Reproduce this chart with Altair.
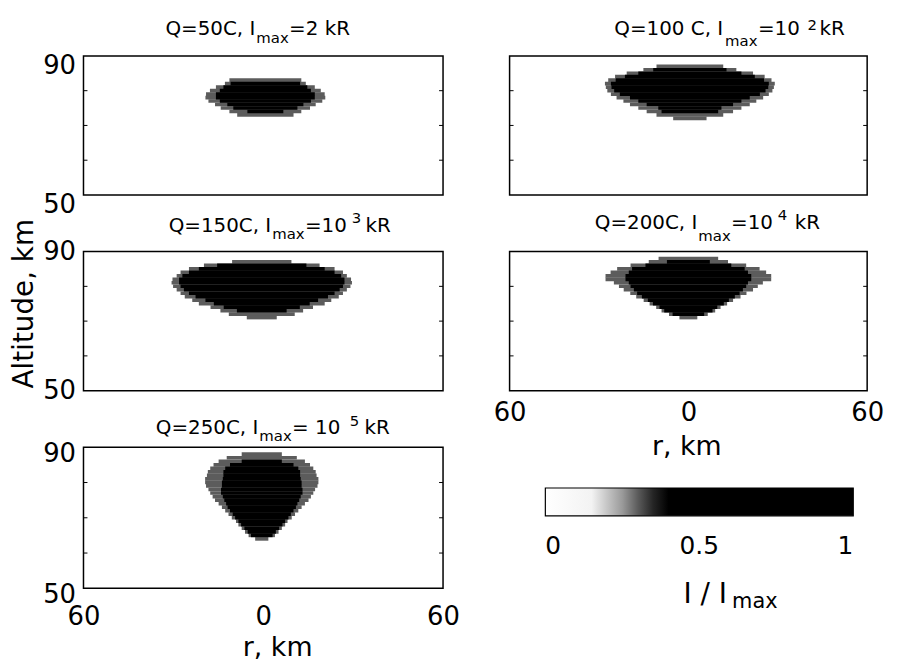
import altair as alt
import pandas as pd

FONT = "DejaVu Sans"

# ---------------- data ----------------
R_TICKS = [-60, 0, 60]
ALT_TICKS = [50, 90]
MINOR_ALT = [60, 70, 80]
CBAR_TICKS = [0, 0.5, 1]

FRINGE_LEVEL = 0.3   # I/Imax of the grey dithered edge
CORE_LEVEL = 1.0     # saturated core

# Panel 1 : Q=50C   (altitude km, core half-width km, edge half-width km)
P1_ALT = [83, 82, 81, 80, 79, 78, 77, 76, 75, 74, 73]
P1_CORE = [0, 11.6, 14.0, 15.2, 16.5, 16.5, 15.2, 12.7, 10.7, 6.0, 0]
P1_FRINGE = [12.0, 13.5, 16.5, 18.5, 19.8, 20.0, 19.0, 16.8, 14.9, 12.0, 9.4]
P1_CENTER = 0.7

# Panel 2 : Q=100 C
P2_ALT = [87, 86, 85, 84, 83, 82, 81, 80, 79, 78, 77, 76, 75, 74, 73, 72]
P2_CORE = [0, 12.3, 17.3, 21.8, 24.9, 26.5, 26.3, 25.4, 23.5, 20.1, 17.3, 14.5, 10.6, 9.5, 0, 0]
P2_FRINGE = [11.2, 15.6, 21.2, 25.1, 27.4, 28.5, 28.2, 27.7, 26.5, 24.6, 22.3, 20.1, 17.3, 14.5, 11.2, 5.6]
P2_CENTER = 0.5

# Panel 3 : Q=150C
P3_ALT = [87, 86, 85, 84, 83, 82, 81, 80, 79, 78, 77, 76, 75, 74, 73, 72, 71]
P3_CORE = [0, 14.9, 21.0, 24.3, 26.5, 27.6, 27.6, 27.1, 26.0, 24.3, 22.1, 18.8, 16.0, 12.7, 8.3, 0, 0]
P3_FRINGE = [9.9, 19.3, 24.3, 27.1, 28.4, 29.8, 30.1, 29.6, 28.4, 27.1, 25.7, 23.2, 21.0, 17.1, 13.8, 11.0, 5.0]
P3_CENTER = -0.5

# Panel 4 : Q=200C
P4_ALT = [88, 87, 86, 85, 84, 83, 82, 81, 80, 79, 78, 77, 76, 75, 74, 73, 72, 71]
P4_CORE = [0, 7.2, 14.4, 18.9, 20.0, 21.1, 21.1, 20.0, 19.4, 18.3, 17.2, 15.6, 13.6, 11.9, 9.7, 8.1, 5.3, 0]
P4_FRINGE = [10.0, 13.3, 19.4, 23.9, 26.1, 27.8, 27.8, 25.0, 23.3, 21.7, 19.5, 17.5, 15.0, 13.0, 10.8, 9.0, 6.5, 3.0]
P4_CENTER = 0.0

# Panel 5 : Q=250C
P5_ALT = [88, 87, 86, 85, 84, 83, 82, 81, 80, 79, 78, 77, 76, 75, 74, 73, 72, 71, 70, 69, 68, 67, 66, 65, 64]
P5_CORE = [0, 0, 6.7, 10.6, 12.2, 12.8, 12.8, 13.0, 13.3, 13.3, 13.6, 13.6, 13.0, 12.5, 11.9, 11.4,
           10.6, 9.7, 8.9, 7.8, 6.9, 5.8, 4.7, 3.6, 0]
P5_FRINGE = [6.7, 11.7, 14.4, 16.1, 17.2, 18.0, 18.3, 18.9, 18.9, 18.6, 17.8, 17.2, 16.4, 15.6, 14.4,
             13.3, 12.2, 11.1, 10.0, 8.6, 7.8, 6.7, 5.6, 4.4, 2.2]
P5_CENTER = -0.5

# title pieces: (before subscript, subscript, after, superscript, tail)
TITLES = [
    ("Q=50C,  I", "max", "=2 kR", "", ""),
    ("Q=100 C, I", "max", "=10", "2", "kR"),
    ("Q=150C, I", "max", "=10", "3", "kR"),
    ("Q=200C, I", "max", "=10", "4", "kR"),
    ("Q=250C, I", "max", "= 10", "5", "kR"),
]
CBAR_TITLE = ("I / I", "max")
Y_TITLE = "Altitude, km"
X_TITLE = "r, km"

# ---------------- layout / style ----------------
TFS, SFS = 20, 15          # title font size, sub/superscript font size
# (anchor x of "I" end, baseline, sub x, sub baseline, after x, sup x, sup baseline, tail x)
TITLE_POS = [
    (173, -21, 174, -13, 207, 0, 0, 0),
    (215, -21, 217, -10, 250, 300, -26, 312),
    (189, -20, 190, -13, 223, 270, -29, 284),
    (189, -23, 190, -11, 223, 270, -32, 287),
    (176, -13, 177, -6, 210, 268, -21, 283),
]
COLOR_SCALE = alt.Scale(domain=[0, 0.15, 0.25, 0.38, 1],
                        range=["#ffffff", "#f3f3f3", "#9a9a9a", "#000000", "#000000"])

LEGEND = alt.Legend(orient="none", direction="horizontal", legendX=465, legendY=435,
                    gradientLength=310, gradientThickness=28, values=CBAR_TICKS, format="~g",
                    title=None, labelFont=FONT, labelFontSize=25, labelColor="black",
                    labelAlign="center", labelOffset=18, gradientStrokeColor="black",
                    gradientStrokeWidth=1.2, padding=0)


def blob_df(alts, core, fringe, center):
    rows = []
    for a, f in zip(alts, fringe):
        rows.append(dict(x0=center - f, x1=center + f, y0=a - 0.5, y1=a + 0.55, v=FRINGE_LEVEL))
    for a, c in zip(alts, core):
        if c > 0:
            rows.append(dict(x0=center - c, x1=center + c, y0=a - 0.5, y1=a + 0.55, v=CORE_LEVEL))
    return pd.DataFrame(rows)


def txt(s, x, y, size, align="left"):
    return alt.Chart(alt.Data(values=[{}])).mark_text(
        text=s, align=align, baseline="alphabetic", font=FONT, fontSize=size, color="black"
    ).encode(x=alt.value(x), y=alt.value(y))


def title_layers(spec, pos):
    pre, sub, post, sup, tail = spec
    ax, base, subx, subb, postx, supx, supb, tailx = pos
    layers = [txt(pre, ax, base, TFS, "right"), txt(sub, subx, subb, SFS), txt(post, postx, base, TFS)]
    if sup:
        layers += [txt(sup, supx, supb, SFS), txt(tail, tailx, base, TFS)]
    return layers


def panel(df, idx, w, h, yaxis, xaxis, extra=()):
    x_enc = alt.X("x0:Q", scale=alt.Scale(domain=[-60, 60], nice=False, zero=False),
                  axis=xaxis if xaxis is not None else None)
    y_enc = alt.Y("y0:Q", scale=alt.Scale(domain=[50, 90], nice=False, zero=False),
                  axis=yaxis if yaxis is not None else None)
    rects = alt.Chart(df).mark_rect().encode(
        x=x_enc, x2="x1:Q", y=y_enc, y2="y1:Q",
        color=alt.Color("v:Q", scale=COLOR_SCALE, legend=LEGEND),
    )
    tick_df = pd.DataFrame({"a": MINOR_ALT})
    lt = alt.Chart(tick_df).mark_rule(color="black", strokeWidth=1).encode(
        y="a:Q", x=alt.value(0), x2=alt.value(4))
    rt = alt.Chart(tick_df).mark_rule(color="black", strokeWidth=1).encode(
        y="a:Q", x=alt.value(w - 4), x2=alt.value(w))
    layers = [rects, lt, rt] + title_layers(TITLES[idx], TITLE_POS[idx]) + list(extra)
    return alt.layer(*layers).properties(
        width=w, height=h, view=alt.ViewBackground(stroke="black", strokeWidth=1.5))


def y_axis(offset, title=None):
    kw = dict(values=ALT_TICKS, ticks=False, domain=False, grid=False, labelFont=FONT,
              labelFontSize=26, labelColor="black", labelPadding=8, labelOffset=offset)
    if title:
        kw.update(title=title, titleFont=FONT, titleFontSize=28, titleFontWeight="normal",
                  titleColor="black", titleAngle=270, titleX=-51, titleY=52,
                  titleAlign="center", titleBaseline="alphabetic")
    else:
        kw.update(title=None)
    return alt.Axis(**kw)


def x_axis(pad, tx, ty):
    return alt.Axis(values=R_TICKS, labelExpr="abs(datum.value)", ticks=False, domain=False,
                    grid=False, labelFlush=False, labelFont=FONT, labelFontSize=26,
                    labelColor="black", labelPadding=pad, title=X_TITLE, titleFont=FONT,
                    titleFontSize=27, titleFontWeight="normal", titleColor="black",
                    titleX=tx, titleY=ty, titleAlign="center", titleBaseline="alphabetic")


d1 = blob_df(P1_ALT, P1_CORE, P1_FRINGE, P1_CENTER)
d2 = blob_df(P2_ALT, P2_CORE, P2_FRINGE, P2_CENTER)
d3 = blob_df(P3_ALT, P3_CORE, P3_FRINGE, P3_CENTER)
d4 = blob_df(P4_ALT, P4_CORE, P4_FRINGE, P4_CENTER)
d5 = blob_df(P5_ALT, P5_CORE, P5_FRINGE, P5_CENTER)

cbar_text = [txt(CBAR_TITLE[0], 175, 354, 28), txt(CBAR_TITLE[1], 224, 359, 21)]

p1 = panel(d1, 0, 362, 140, y_axis(10), None)
p2 = panel(d2, 1, 360, 140, None, None)
p3 = panel(d3, 2, 362, 140, y_axis(0, Y_TITLE), None)
p4 = panel(d4, 3, 360, 140, None, x_axis(9, 178, 64), extra=cbar_text)
p5 = panel(d5, 4, 362, 142, y_axis(6), x_axis(15, 195, 68))

chart = alt.concat(p1, p2, p3, p4, p5, columns=2, spacing={"row": 57, "column": 67},
                   bounds="flush").properties(
    padding={"left": 2, "top": 7, "right": 5, "bottom": 5}
).configure_view(stroke="black", strokeWidth=1.5).configure(background="white")

chart.save("out.html", embed_options={"renderer": "svg", "actions": False})
